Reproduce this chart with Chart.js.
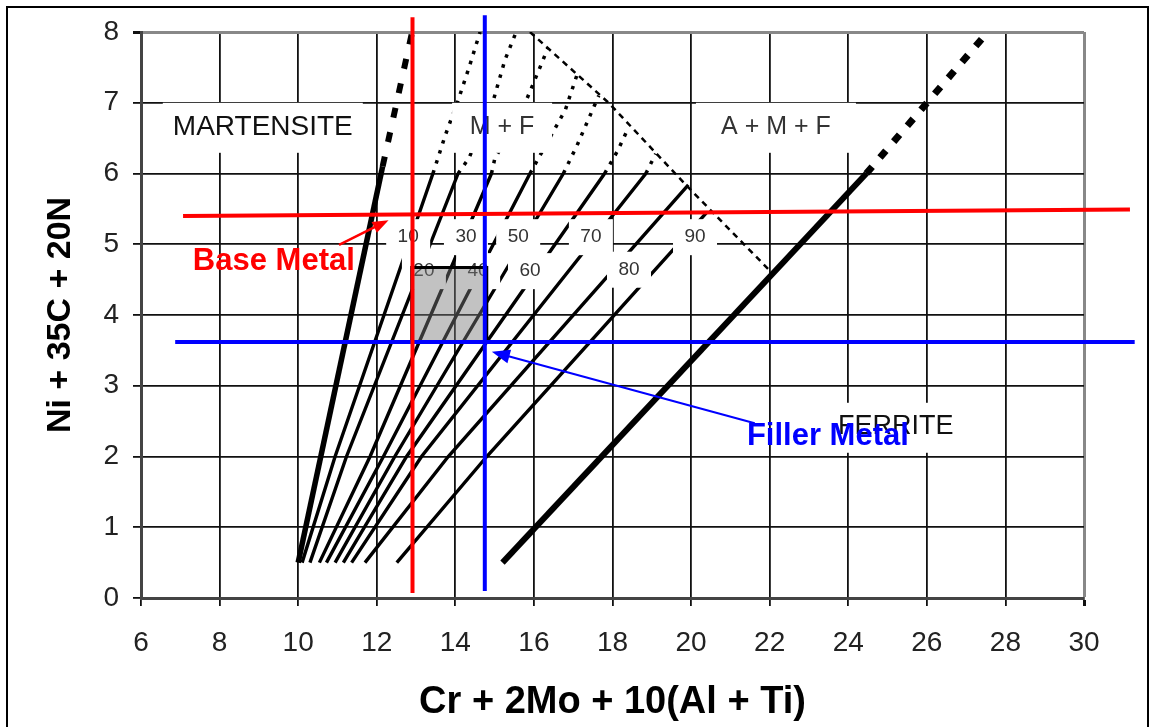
<!DOCTYPE html>
<html>
<head>
<meta charset="utf-8">
<script src="https://cdn.jsdelivr.net/npm/chart.js@4.4.0/dist/chart.umd.min.js"></script>
<style>
  html, body { margin: 0; padding: 0; background: #fff; }
  canvas { display: block; }
</style>
</head>
<body>
<canvas id="myChart" width="1152" height="727"></canvas>
<script>
// axis ticks
var xTicks = [6, 8, 10, 12, 14, 16, 18, 20, 22, 24, 26, 28, 30];
var yTicks = [0, 1, 2, 3, 4, 5, 6, 7, 8];

// phase boundaries  [Cr eq, Ni eq]
var martensiteLine = [[10.0, 0.5], [12.15, 6.1]];
var martensiteDotted = [[12.15, 6.1], [12.9, 8.0]];
var ferriteLine = [[15.2, 0.5], [24.46, 6.0]];
var ferriteDotted = [[24.46, 6.0], [27.55, 8.0]];
var amfLine = [[15.9, 8.0], [17.9, 7.0], [19.9, 5.82], [22.05, 4.6]];

// iso-ferrite lines 10 .. 90
var ferriteNumbers = [10, 20, 30, 40, 50, 60, 70, 80, 90];
var isoSolid = [
  [[10.1, 0.5], [10.94, 2], [13.43, 6]],
  [[10.3, 0.5], [11.23, 2], [14.07, 6]],
  [[10.54, 0.5], [11.83, 2], [14.92, 6]],
  [[10.72, 0.5], [12.17, 2], [15.9, 6]],
  [[10.94, 0.5], [12.46, 2], [16.75, 6]],
  [[11.15, 0.5], [12.76, 2], [17.8, 6]],
  [[11.36, 0.5], [13.14, 2], [18.85, 6]],
  [[11.7, 0.5], [13.82, 2], [19.93, 5.84]],
  [[12.51, 0.5], [14.8, 2], [20.4, 5.45]]
];
var isoDotted = [
  [[13.43, 6], [13.75, 6.55], [14.05, 7.0], [14.35, 7.5], [14.63, 8.0]],
  [[14.07, 6], [14.35, 6.22], [14.97, 7.04], [15.26, 7.6], [15.52, 7.96]],
  [[14.92, 6], [15.0, 6.2], [15.81, 7.04], [16.2, 7.56], [16.36, 7.78]],
  [[15.9, 6], [16.07, 6.17], [16.8, 6.9], [17.1, 7.4]],
  [[16.75, 6], [17.1, 6.4], [17.65, 7.1]],
  [[17.8, 6], [18.13, 6.32], [18.4, 6.64]],
  [[18.85, 6], [19.1, 6.28]]
];
var isoLabelPos = [[12.80, 5.10], [13.20, 4.62], [14.27, 5.10], [14.58, 4.62], [15.60, 5.10],
                   [15.90, 4.62], [17.45, 5.10], [18.42, 4.64], [20.10, 5.10]];

// phase regions
var regionNames = ["MARTENSITE", "M + F", "A + M + F", "FERRITE"];
var regionPos = [[9.10, 6.66], [15.19, 6.66], [22.16, 6.66], [25.21, 2.42]];

// base metal / filler metal
var baseV = [[12.91, 0.07], [12.91, 8.21]];
var baseH = [[7.07, 5.40], [31.17, 5.49]];
var fillerV = [[14.75, 0.1], [14.75, 8.235]];
var fillerH = [[6.87, 3.62], [31.29, 3.62]];
var mixBox = [[12.89, 3.62], [14.8, 3.62], [14.8, 4.67], [12.89, 4.67], [12.89, 3.62]];
var baseArrow = [[11.04, 4.99], [12.3, 5.34]];
var fillerArrow = [[21.62, 2.47], [14.93, 3.48]];
var baseText = [7.32, 4.75];
var fillerText = [21.42, 2.29];

Chart.defaults.font.family = "'Liberation Sans', Arial, sans-serif";

function xy(pts) {
  return pts.map(function (p) { return { x: p[0], y: p[1] }; });
}
function lineSet(label, pts, color, width, dash, order) {
  return {
    label: label,
    data: xy(pts),
    borderColor: color,
    borderWidth: width,
    borderDash: dash,
    pointRadius: 0,
    fill: false,
    tension: 0,
    order: order
  };
}

var datasets = [];
isoSolid.forEach(function (pts, i) {
  datasets.push(lineSet("iso" + ferriteNumbers[i], pts, "#000", 3.4, [], 2));
});
isoDotted.forEach(function (pts, i) {
  datasets.push(lineSet("isoDot" + ferriteNumbers[i], pts, "#000", 3.5, [3.5, 7], 2));
});
datasets.push(lineSet("martensite", martensiteLine, "#000", 5.5, [], 2));
datasets.push(lineSet("martensiteDot", martensiteDotted, "#000", 6, [10, 15], 2));
datasets.push(lineSet("ferrite", ferriteLine, "#000", 6, [], 2));
datasets.push(lineSet("ferriteDot", ferriteDotted, "#000", 7, [9, 12], 2));
datasets.push(lineSet("amf", amfLine, "#000", 2.5, [6, 5], 2));

var box = lineSet("mix", mixBox, "#000", 3, [], 1);
box.fill = "shape";
box.backgroundColor = "rgba(120,120,120,0.45)";
datasets.push(box);

[["baseV", baseV, "#ff0000"], ["baseH", baseH, "#ff0000"],
 ["fillerV", fillerV, "#0000ff"], ["fillerH", fillerH, "#0000ff"]].forEach(function (d) {
  var s = lineSet(d[0], d[1], d[2], 4, [], 0);
  s.clip = false;
  datasets.push(s);
});

function px(chart, p) {
  return [chart.scales.x.getPixelForValue(p[0]), chart.scales.y.getPixelForValue(p[1])];
}

function drawArrow(ctx, a, b, color, width, len, half) {
  var ang = Math.atan2(b[1] - a[1], b[0] - a[0]);
  ctx.strokeStyle = color;
  ctx.fillStyle = color;
  ctx.lineWidth = width;
  ctx.beginPath();
  ctx.moveTo(a[0], a[1]);
  ctx.lineTo(b[0] - Math.cos(ang) * len * 0.8, b[1] - Math.sin(ang) * len * 0.8);
  ctx.stroke();
  ctx.beginPath();
  ctx.moveTo(b[0], b[1]);
  ctx.lineTo(b[0] - Math.cos(ang) * len - Math.sin(ang) * half, b[1] - Math.sin(ang) * len + Math.cos(ang) * half);
  ctx.lineTo(b[0] - Math.cos(ang) * len + Math.sin(ang) * half, b[1] - Math.sin(ang) * len - Math.cos(ang) * half);
  ctx.closePath();
  ctx.fill();
}

function drawLabels(chart) {
  var ctx = chart.ctx;
  ctx.save();
  ctx.textAlign = "center";
  ctx.textBaseline = "middle";
  // ferrite number labels
  ctx.font = "19px 'Liberation Sans', Arial, sans-serif";
  isoLabelPos.forEach(function (p, i) {
    var c = px(chart, p);
    ctx.fillStyle = "#fff";
    ctx.fillRect(c[0] - 22, c[1] - 18, 44, 36);
    ctx.fillStyle = "#333";
    ctx.fillText(String(ferriteNumbers[i]), c[0], c[1]);
  });
  // region labels
  var boxW = [200, 100, 160, 150];
  var sizes = [28, 25, 25, 27];
  regionNames.forEach(function (name, i) {
    var c = px(chart, regionPos[i]);
    ctx.fillStyle = "#fff";
    ctx.fillRect(c[0] - boxW[i] / 2, c[1] - 24, boxW[i], 50);
    ctx.fillStyle = i === 0 || i === 3 ? "#111" : "#333";
    ctx.font = sizes[i] + "px 'Liberation Sans', Arial, sans-serif";
    ctx.fillText(name, c[0], c[1]);
  });
  ctx.restore();
}

var labelsPlugin = {
  id: "labels",
  // index 0 is the last black line drawn, so labels sit on the lines but under the box
  afterDatasetDraw: function (chart, args) {
    if (args.index === 0) drawLabels(chart);
  },
  afterDatasetsDraw: function (chart) {
    var ctx = chart.ctx;
    ctx.save();
    drawArrow(ctx, px(chart, baseArrow[0]), px(chart, baseArrow[1]), "#ff0000", 2.5, 16, 6);
    drawArrow(ctx, px(chart, fillerArrow[0]), px(chart, fillerArrow[1]), "#0000ff", 2, 18, 7);
    ctx.textAlign = "left";
    ctx.textBaseline = "middle";
    ctx.font = "bold 31px 'Liberation Sans', Arial, sans-serif";
    var b = px(chart, baseText);
    ctx.fillStyle = "#ff0000";
    ctx.fillText("Base Metal", b[0], b[1]);
    var f = px(chart, fillerText);
    ctx.fillStyle = "#0000ff";
    ctx.fillText("Filler Metal", f[0], f[1]);
    ctx.restore();
  },
  afterDraw: function (chart) {
    var ctx = chart.ctx;
    ctx.save();
    ctx.strokeStyle = "#000";
    ctx.lineWidth = 2;
    ctx.strokeRect(7, 7, 1141, 760);
    ctx.restore();
  }
};

var ctx = document.getElementById("myChart").getContext("2d");
var myChart = new Chart(ctx, {
  type: "line",
  data: { datasets: datasets },
  options: {
    responsive: false,
    animation: false,
    layout: { padding: { left: 0, top: 32, right: 68, bottom: 0 } },
    plugins: {
      legend: { display: false },
      tooltip: { enabled: false },
      filler: { drawTime: "beforeDatasetDraw" }
    },
    scales: {
      x: {
        type: "linear",
        min: 6,
        max: 30,
        afterBuildTicks: function (s) { s.ticks = xTicks.map(function (v) { return { value: v }; }); },
        afterFit: function (s) { s.height = 129; },
        grid: {
          color: function (c) { return c.tick && c.tick.value === 30 ? "#888" : "#111"; },
          lineWidth: function (c) { return c.tick && c.tick.value === 30 ? 3 : 1.8; },
          tickLength: 8,
          tickColor: "#111"
        },
        border: { color: "#444", width: 3 },
        ticks: { color: "#222", font: { size: 28 }, padding: 20 },
        title: {
          display: true,
          text: "Cr + 2Mo + 10(Al + Ti)",
          color: "#000",
          font: { size: 38, weight: "bold", lineHeight: 1.2 },
          padding: { top: 0, bottom: 2 }
        }
      },
      y: {
        type: "linear",
        min: 0,
        max: 8,
        afterBuildTicks: function (s) { s.ticks = yTicks.map(function (v) { return { value: v }; }); },
        afterFit: function (s) { s.width = 141; },
        grid: {
          color: function (c) { return c.tick && c.tick.value === 8 ? "#888" : "#111"; },
          lineWidth: function (c) { return c.tick && c.tick.value === 8 ? 3 : 1.8; },
          tickLength: 8,
          tickColor: "#111"
        },
        border: { color: "#444", width: 3 },
        ticks: { color: "#222", font: { size: 28 }, padding: 14 },
        title: {
          display: true,
          text: "Ni + 35C + 20N",
          color: "#000",
          font: { size: 34, weight: "bold", lineHeight: 1.2 },
          padding: { top: 40, bottom: 0 }
        }
      }
    }
  },
  plugins: [labelsPlugin]
});
</script>
</body>
</html>
